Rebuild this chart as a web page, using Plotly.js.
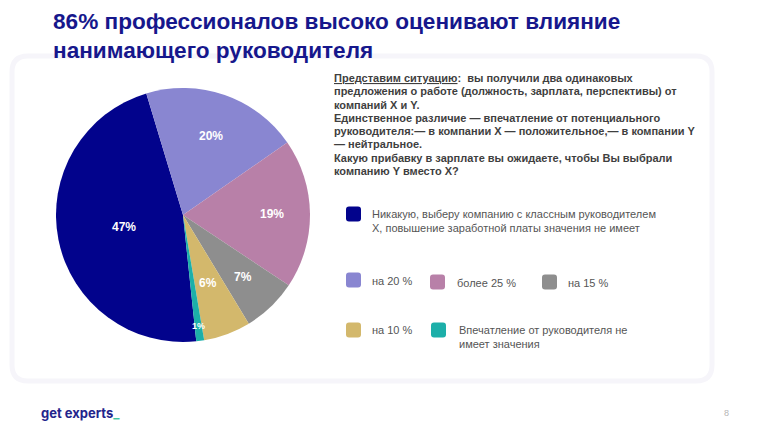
<!DOCTYPE html>
<html>
<head>
<meta charset="utf-8">
<script src="https://cdn.plot.ly/plotly-3.0.1.min.js"></script>
<style>
  html, body { margin: 0; padding: 0; background: #ffffff; }
  #chart { width: 768px; height: 432px; }
</style>
</head>
<body>
<div id="chart"></div>
<script>
// Survey answers: expected salary raise to choose company Y over X
const categories = [
  'Никакую, выберу компанию с классным руководителем<br>X, повышение заработной платы значения не имеет',
  'на 20 %',
  'более 25 %',
  'на 15 %',
  'на 10 %',
  'Впечатление от руководителя не<br>имеет значения'
];
const shares = [47, 20, 19, 7, 6, 1];
const colors = ['#02038C', '#8986D1', '#B880A8', '#8E8E8E', '#D3B86C', '#1CAFA9'];

const titleText = '86% профессионалов высоко оценивают влияние<br>нанимающего руководителя';
const questionLines = [
  '<u>Представим ситуацию</u>:  вы получили два одинаковых',
  'предложения о работе (должность, зарплата, перспективы) от',
  'компаний X и Y.',
  'Единственное различие — впечатление от потенциального',
  'руководителя:— в компании X — положительное,— в компании Y',
  '— нейтральное.',
  'Какую прибавку в зарплате вы ожидаете, чтобы Вы выбрали',
  'компанию Y вместо X?'
];

const W = 768, H = 432;
const px = x => x / W;
const py = y => 1 - y / H;

// Pie geometry (pixels) and slice label styling
const pie = { left: 56, right: 310, top: 88, bottom: 342, rotation: 174 };
const labelRadius = [0.47, 0.66, 0.70, 0.68, 0.57, 0.88];
const labelSize = [12, 12, 12, 12, 12, 9];

// Rounded rectangle path in paper coordinates
function roundedRect(x0, y0, x1, y1, r) {
  const X = v => px(v), Y = v => py(v);
  return `M ${X(x0 + r)} ${Y(y0)} L ${X(x1 - r)} ${Y(y0)} Q ${X(x1)} ${Y(y0)} ${X(x1)} ${Y(y0 + r)} ` +
         `L ${X(x1)} ${Y(y1 - r)} Q ${X(x1)} ${Y(y1)} ${X(x1 - r)} ${Y(y1)} ` +
         `L ${X(x0 + r)} ${Y(y1)} Q ${X(x0)} ${Y(y1)} ${X(x0)} ${Y(y1 - r)} ` +
         `L ${X(x0)} ${Y(y0 + r)} Q ${X(x0)} ${Y(y0)} ${X(x0 + r)} ${Y(y0)} Z`;
}

const shapes = [
  { type: 'path', xref: 'paper', yref: 'paper', path: roundedRect(12, 56, 712, 381, 16),
    fillcolor: '#ffffff', line: { color: '#f6f5fa', width: 5 }, layer: 'below' }
];

const annotations = [];

// Title
annotations.push({
  xref: 'paper', yref: 'paper', x: px(51), y: py(7), xanchor: 'left', yanchor: 'top',
  text: '<b>' + titleText + '</b>', showarrow: false, align: 'left',
  font: { family: 'Liberation Sans, Arial, sans-serif', size: 22.6, color: '#16178C' }
});

// Question block, one annotation per line
questionLines.forEach((line, i) => {
  annotations.push({
    xref: 'paper', yref: 'paper', x: px(332), y: py(78 + i * 13.3),
    xanchor: 'left', yanchor: 'middle', showarrow: false, align: 'left',
    text: '<b>' + line + '</b>',
    font: { family: 'Liberation Sans, Arial, sans-serif', size: 11, color: '#3f3f3f' }
  });
});

// Custom legend grid: swatch left / centre, text left / top
const legendSlots = [
  { sx: 346, sy: 214, tx: 370, ty: 206 },
  { sx: 346, sy: 280, tx: 370, ty: 273 },
  { sx: 430, sy: 282, tx: 455, ty: 275 },
  { sx: 542, sy: 282, tx: 566, ty: 275 },
  { sx: 346, sy: 330, tx: 370, ty: 322 },
  { sx: 431, sy: 330, tx: 457, ty: 322 }
];
legendSlots.forEach((s, i) => {
  const size = 15;
  shapes.push({ type: 'path', xref: 'paper', yref: 'paper',
    path: roundedRect(s.sx, s.sy - size / 2, s.sx + size, s.sy + size / 2, 3),
    fillcolor: colors[i], line: { width: 0 } });
  annotations.push({
    xref: 'paper', yref: 'paper', x: px(s.tx), y: py(s.ty), xanchor: 'left', yanchor: 'top',
    showarrow: false, align: 'left', text: categories[i],
    font: { family: 'Liberation Sans, Arial, sans-serif', size: 11, color: '#555555' }
  });
});

// Slice value labels placed on each slice's bisector
(function () {
  const cx = (pie.left + pie.right) / 2, cy = (pie.top + pie.bottom) / 2;
  const R = (pie.right - pie.left) / 2;
  const total = shares.reduce((a, b) => a + b, 0);
  let start = pie.rotation;
  shares.forEach((v, i) => {
    const sweep = v / total * 360;
    const mid = (start + sweep / 2) * Math.PI / 180;
    start += sweep;
    const r = labelRadius[i] * R;
    annotations.push({
      xref: 'paper', yref: 'paper',
      x: px(cx + r * Math.sin(mid)), y: py(cy - r * Math.cos(mid)),
      xanchor: 'center', yanchor: 'middle', showarrow: false,
      text: '<b>' + v + '%</b>',
      font: { family: 'Liberation Sans, Arial, sans-serif', size: labelSize[i], color: '#ffffff' }
    });
  });
})();

// Footer
annotations.push({
  xref: 'paper', yref: 'paper', x: px(39), y: py(413), xanchor: 'left', yanchor: 'middle',
  showarrow: false, text: '<b>get experts</b><span style="color:#3cc7a2"><b>_</b></span>',
  font: { family: 'Inter, sans-serif', size: 13, color: '#23248C' }
});
annotations.push({
  xref: 'paper', yref: 'paper', x: px(726), y: py(413), xanchor: 'center', yanchor: 'middle',
  showarrow: false, text: '8', font: { family: 'Liberation Sans, Arial, sans-serif', size: 9, color: '#b5b5b5' }
});

const trace = {
  type: 'pie',
  labels: categories,
  values: shares,
  marker: { colors: colors, line: { width: 0 } },
  sort: false,
  direction: 'clockwise',
  rotation: pie.rotation,
  textinfo: 'none',
  hoverinfo: 'label+percent',
  showlegend: false,
  domain: { x: [px(pie.left), px(pie.right)], y: [py(pie.bottom), py(pie.top)] }
};

const layout = {
  width: W, height: H,
  margin: { l: 0, r: 0, t: 0, b: 0 },
  paper_bgcolor: '#ffffff',
  plot_bgcolor: '#ffffff',
  showlegend: false,
  shapes: shapes,
  annotations: annotations
};

Plotly.newPlot('chart', [trace], layout, { displayModeBar: false, staticPlot: true });
</script>
</body>
</html>
